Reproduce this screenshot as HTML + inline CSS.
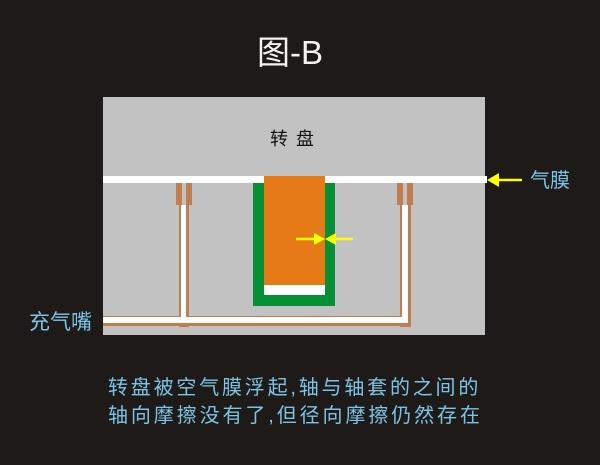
<!DOCTYPE html>
<html><head><meta charset="utf-8"><style>
html,body{margin:0;padding:0;background:#1e1a18;}
svg{display:block}
</style></head><body>
<svg width="600" height="465" viewBox="0 0 600 465" xmlns="http://www.w3.org/2000/svg">
<rect width="600" height="465" fill="#1e1a18"/>
<text x="290" y="64" font-family="Liberation Sans, Noto Sans CJK SC, sans-serif" font-size="33" fill="#f2f2f2" text-anchor="middle">图-B</text>
<rect x="103" y="97" width="382" height="238" fill="#c2c2c2"/>
<text x="296" y="145" font-family="Liberation Sans, Noto Sans CJK SC, sans-serif" font-size="18" fill="#111" text-anchor="middle" letter-spacing="8">转盘</text>
<rect x="253" y="183" width="82" height="123" fill="#069035"/>
<rect x="264" y="285" width="61" height="10" fill="#fff"/>
<rect x="103" y="176" width="384" height="7" fill="#fff"/>
<rect x="264" y="176" width="61" height="109" fill="#e57a16"/>
<g fill="#c07d52">
<rect x="176" y="183" width="6" height="22"/>
<rect x="186" y="183" width="6" height="22"/>
<rect x="397" y="183" width="6" height="22"/>
<rect x="407" y="183" width="6" height="22"/>
<rect x="179" y="205" width="10" height="122"/>
<rect x="400" y="205" width="11" height="122"/>
<rect x="103" y="314" width="308" height="12"/>
</g>
<g fill="#fff">
<rect x="181" y="205" width="5" height="117"/>
<rect x="402" y="205" width="6" height="117"/>
<rect x="103" y="317" width="305" height="6"/>
</g>
<rect x="189" y="314" width="211" height="2" fill="#c2c2c2"/>
<rect x="103" y="314" width="76" height="2" fill="#c2c2c2"/>
<g stroke="#ffff00" stroke-width="2.5" fill="#ffff00">
<line x1="296" y1="239" x2="316" y2="239"/>
<line x1="353" y1="239" x2="334" y2="239"/>
<line x1="522" y1="180" x2="497" y2="180"/>
</g>
<g fill="#ffff00">
<polygon points="325,239 314,233 314,245"/>
<polygon points="325,239 336,233 336,245"/>
<polygon points="487,180 499,173 499,187"/>
</g>
<text x="530" y="187" font-family="Liberation Sans, Noto Sans CJK SC, sans-serif" font-size="20" fill="#7cc4e6">气膜</text>
<text x="29" y="329" font-family="Liberation Sans, Noto Sans CJK SC, sans-serif" font-size="21" fill="#7cc4e6">充气嘴</text>
<text x="108" y="394" font-family="Liberation Sans, Noto Sans CJK SC, sans-serif" font-size="20" fill="#7cc4e6" letter-spacing="2.8">转盘被空气膜浮起,轴与轴套的之间的</text>
<text x="108" y="422" font-family="Liberation Sans, Noto Sans CJK SC, sans-serif" font-size="20" fill="#7cc4e6" letter-spacing="2.9">轴向摩擦没有了,但径向摩擦仍然存在</text>
</svg>
</body></html>
